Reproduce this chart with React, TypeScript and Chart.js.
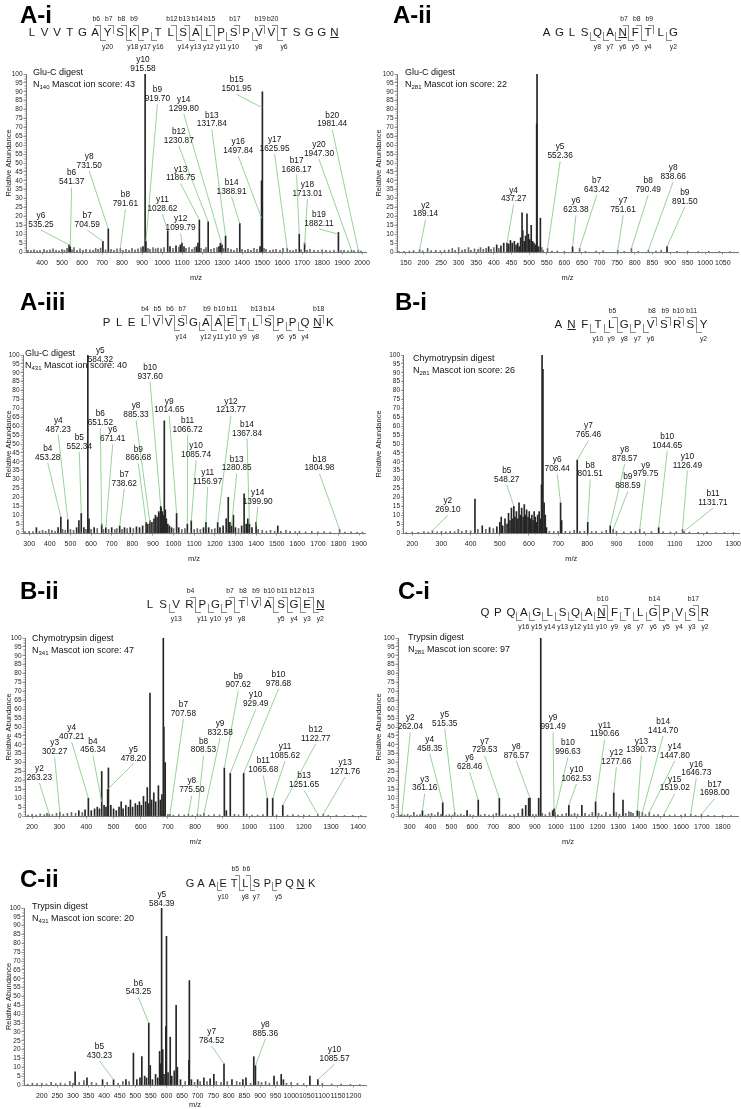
import React, { useEffect, useRef } from "react";
import { Chart, registerables } from "chart.js";
Chart.register(...registerables);

const FONT = '"Liberation Sans", Arial, Helvetica, sans-serif';

type Peak = [number, number];
// [ion name, m/z, abundance where leader meets peak, label m/z, label abundance]
type Ion = [string, number, number, number, number];

// ---------------- A-i ----------------
const aiSeq = "LVVTGAYSKPTLSALPSPVVTSGGN";
const aiB = [6, 7, 8, 9, 12, 13, 14, 15, 17, 19, 20];
const aiY = [20, 18, 17, 16, 14, 13, 12, 11, 10, 8, 6];
const aiTicks = [400, 500, 600, 700, 800, 900, 1000, 1100, 1200, 1300, 1400, 1500, 1600, 1700, 1800, 1900, 2000];
const aiPeaks: Peak[] = [[330,1],[345,0.8],[360,1.2],[375,0.7],[390,1],[410,1.5],[425,0.8],[440,1.2],[455,1.8],[470,1],[485,0.7],[500,1.5],[512,1],[525,2],[535.25,4],[541.37,3],[550,1.2],[560,2.5],[575,1],[590,1.8],[605,1],[620,1.5],[640,1.2],[655,1],[668,2],[680,1.5],[693,2.2],[704.59,6],[718,1.2],[731.5,13],[745,1.5],[760,1],[775,1.8],[791.61,2],[805,1],[820,1.5],[835,1],[850,2],[865,1.2],[880,1.8],[895,2.5],[905,3],[915.58,100],[919.7,6],[930,2],[940,1.5],[955,2.5],[968,1.8],[980,2.2],[995,1.8],[1010,2.5],[1028.62,12],[1040,3],[1055,2],[1070,3.5],[1085,2.8],[1092,4],[1099.79,5],[1110,3],[1120,2],[1135,2.5],[1150,1.5],[1162,2.5],[1172,3],[1180,5],[1186.75,18],[1195,2],[1210,1.5],[1220,2.5],[1230.87,17],[1245,1.5],[1260,2],[1275,2.5],[1285,3],[1292,5],[1299.8,4],[1308,2],[1317.84,9],[1330,2],[1345,1.5],[1360,1],[1375,2],[1388.91,16],[1400,1.5],[1415,1],[1430,1.5],[1445,1],[1460,2],[1475,1.5],[1490,3],[1497.84,40],[1501.95,90],[1510,2],[1520,1.5],[1540,1],[1555,1.2],[1570,1.5],[1590,1],[1605,2],[1625.95,2],[1640,1],[1655,0.8],[1670,1.5],[1686.17,10],[1695,1.2],[1713.01,5],[1725,1],[1740,1.5],[1760,1],[1780,0.8],[1800,1.2],[1820,1],[1840,0.7],[1860,1],[1882.11,11],[1895,0.8],[1910,1],[1930,0.6],[1947.3,1],[1960,0.8],[1981.44,1],[1995,0.5]];
const aiIons: Ion[] = [["y6",535.25,4,395,20.4],["b6",541.37,3,548,44.3],["b7",704.59,6,626,20.4],["y8",731.50,13,636,53.6],["b8",791.61,2,817,32.1],["y10",915.58,100,905,108],["b9",919.70,6,977,91],["y11",1028.62,12,1002,29.3],["y12",1099.79,5,1093,18.5],["y13",1186.75,18,1093,46.5],["b12",1230.87,17,1084,67.6],["y14",1299.80,4,1109,85.6],["b13",1317.84,9,1249,76.8],["b14",1388.91,16,1348,39],["y16",1497.84,19,1381,62],["b15",1501.95,81,1373,96.6],["y17",1625.95,2,1563,63],["b17",1686.17,10,1673,51.4],["y18",1713.01,4,1727,37.8],["b19",1882.11,10,1785,21],["y20",1947.30,1,1785,60.2],["b20",1981.44,1,1851,76.8]];

// ---------------- A-ii ----------------
const aiiSeq = "AGLSQANFTLG";
const aiiB = [7, 8, 9];
const aiiY = [8, 7, 6, 5, 4, 2];
const aiiTicks = [150, 200, 250, 300, 350, 400, 450, 500, 550, 600, 650, 700, 750, 800, 850, 900, 950, 1000, 1050];
const aiiPeaks: Peak[] = [[130,0.3],[145,0.4],[160,0.5],[172,0.8],[189.14,1.3],[198,0.6],[212,2],[222,0.8],[235,1],[248,0.7],[260,1],[272,1.2],[282,2],[290,1],[300,2.5],[310,1],[318,1.5],[328,2.5],[335,1],[345,1.8],[355,1.5],[362,2.5],[370,1.5],[378,2],[385,3],[392,1.5],[400,2.5],[408,4],[414,2],[420,3.5],[428,5],[437.27,5],[442,4.5],[447,6.5],[452,5],[458,6],[463,4],[468,5],[472,3],[476,8],[480,22],[482,12],[486,6],[490,9],[494,21.5],[498,10],[502,7],[506,15],[510,6],[514,5],[518,4],[521.5,72],[522.5,100],[527,3],[532,19],[536,2.5],[540,1],[552.36,2],[565,0.5],[580,0.6],[600,0.4],[623.38,3],[643.42,2],[660,0.4],[690,0.5],[710,0.6],[751.61,1],[770,0.4],[790.49,2],[810,0.4],[838.66,1],[860,0.5],[875,1],[891.5,3],[920,0.4],[950,0.5],[980,0.3],[1010,0.4],[1040,0.3],[1070,0.3]];
const aiiIons: Ion[] = [["y2",189.14,1.3,206,26.2],["y4",437.27,5,456,34.7],["y5",552.36,2,588,58.9],["y6",623.38,3,633,28.7],["b7",643.42,2,692,40],["y7",751.61,1,767,28.7],["b8",790.49,2,838,40],["y8",838.66,1,909,47.5],["b9",891.50,3,942,33.4]];

// ---------------- A-iii ----------------
const aiiiSeq = "PLELVVSGAAETLSPPQNK";
const aiiiB = [4, 5, 6, 7, 9, 10, 11, 13, 14, 18];
const aiiiY = [14, 12, 11, 10, 9, 8, 6, 5, 4];
const aiiiTicks = [300, 400, 500, 600, 700, 800, 900, 1000, 1100, 1200, 1300, 1400, 1500, 1600, 1700, 1800, 1900];
const aiiiPeaks: Peak[] = [[280,0.8],[300,1],[318,0.8],[335,3],[350,1],[365,1.5],[380,1],[395,2],[410,1.5],[425,1],[440,3],[453.28,9],[462,2],[475,1.5],[487.23,7.5],[500,2],[515,1.5],[530,3],[541,7],[552.34,11],[565,3],[575,2],[584.32,100],[590,8],[600,2],[615,3],[630,2.5],[651.52,5],[660,2],[671.41,3],[685,2],[700,3],[715,2],[725,2.5],[738.62,4],[750,2],[762,3],[775,2.5],[790,3],[805,2.5],[820,3.5],[835,3],[850,4],[866.68,6],[875,5],[885.33,7],[895,6],[905,8],[912,10],[920,9],[928,12],[935,11],[937.6,15],[940,14],[945,12],[950,10],[955,63],[960,13],[965,8],[972,5],[980,4],[990,3],[1000,2.5],[1014.65,11],[1025,3],[1040,2],[1055,2.5],[1066.72,5],[1085.74,7],[1100,2],[1115,2.5],[1130,2],[1145,3],[1156.97,6],[1170,3],[1185,2],[1200,2.5],[1213.77,6],[1225,3],[1240,4],[1255,8],[1265,20],[1273,6],[1280.85,4],[1290,10],[1300,3],[1315,2.5],[1330,4],[1342,22],[1352,5],[1360,8],[1367.84,5],[1380,3],[1399.9,6],[1410,2],[1430,1.5],[1450,1],[1470,1.5],[1490,1],[1505,4],[1520,1],[1545,1.5],[1565,1],[1590,0.8],[1610,1],[1640,0.7],[1670,1],[1700,0.6],[1730,0.8],[1760,0.5],[1804.98,2],[1830,0.5],[1860,0.6],[1890,0.4],[1915,0.5]];
const aiiiIons: Ion[] = [["b4",453.28,9,390,47.4],["y4",487.23,7.5,441,63],["b5",552.34,11,543,53.6],["y5",584.32,100,645,102.4],["b6",651.52,4,645,66.9],["y6",671.41,3,705,57.9],["b7",738.62,3.8,761,32.9],["y8",885.33,5.6,818,71.4],["b9",866.68,5.6,829,47],["b10",937.60,15,886,93],["y9",1014.65,11,979,74],["b11",1066.72,5,1068,63],["y10",1085.74,6.5,1109,48.9],["y11",1156.97,6,1165,33.8],["y12",1213.77,5.6,1278,74],["b13",1280.85,4,1306,41.4],["b14",1367.84,5,1356,61],["y14",1399.90,4,1408,22.6],["b18",1804.98,2,1707,41.4]];

// ---------------- B-i ----------------
const biSeq = "ANFTLGPVSRSY";
const biB = [5, 8, 9, 10, 11];
const biY = [10, 9, 8, 7, 6, 2];
const biTicks = [200, 300, 400, 500, 600, 700, 800, 900, 1000, 1100, 1200, 1300];
const biPeaks: Peak[] = [[180,0.3],[200,0.5],[220,0.4],[240,0.8],[255,0.5],[269.1,1.3],[285,0.6],[300,1],[315,0.7],[330,1],[345,0.8],[358,2],[370,1],[385,1.5],[400,1.2],[415,19],[425,2],[440,4],[452,2],[465,3],[478,2.5],[490,3.5],[500,6],[505,9],[510,4],[518,8],[525,5],[530,11],[535,7],[540,14],[545,8],[548.27,15],[552,9],[557,12],[562,8],[566,17],[570,10],[575,14],[580,9],[584,16],[588,10],[592,13],[597,9],[601,12],[605,8],[610,10],[614,7],[618,12],[622,9],[626,6],[630,10],[635,12],[640,8],[643,27],[645,100],[648,92],[652,17],[656,10],[660,3],[670,1],[685,0.8],[700,1],[708.44,17],[712,7],[725,1],[740,0.8],[755,1.5],[765.46,41],[775,1],[790,1],[801.51,6],[815,0.8],[830,1],[850,0.6],[865,1.5],[878.57,4],[888.59,2],[900,1],[925,0.6],[950,0.8],[965,1],[979.75,2],[995,0.6],[1020,0.8],[1044.65,3],[1060,0.6],[1085,0.5],[1105,0.6],[1126.49,2],[1131.71,1],[1150,0.5],[1180,0.4],[1210,0.5],[1240,0.3],[1270,0.4],[1300,0.3]];
const biIons: Ion[] = [["y2",269.10,1.3,322,18],["b5",548.27,15,524,35],["y6",708.44,17,697,41],["y7",765.46,41,804,60],["b8",801.51,6,810,38],["y8",878.57,4,928,46.7],["b9",888.59,2,939,31.4],["y9",979.75,2,1000,38],["b10",1044.65,3,1074,54],["y10",1126.49,2,1143,43],["b11",1131.71,1,1231,22]];

// ---------------- B-ii ----------------
const biiSeq = "LSVRPGPTVASGEN";
const biiB = [4, 7, 8, 9, 10, 11, 12, 13];
const biiY = [13, 11, 10, 9, 8, 5, 4, 3, 2];
const biiTicks = [200, 300, 400, 500, 600, 700, 800, 900, 1000, 1100, 1200, 1300, 1400];
const biiPeaks: Peak[] = [[185,0.5],[200,1],[215,0.5],[230,1.2],[245,0.8],[255,1.5],[263.23,1],[275,0.8],[290,1.5],[302.27,2],[315,1],[330,1.5],[345,2],[360,1.5],[372,3],[385,2],[395,3.5],[407.21,10],[418,3],[430,4],[440,5],[448,4],[456.34,25],[465,6],[472,5],[478.2,15],[481,27],[490,6],[500,4],[510,3],[520,5],[528,8],[535,4],[545,6],[555,5],[562,9],[570,5],[580,7],[588,6],[595,8],[602,6],[610,11],[618,8],[624,16],[630,7],[634,69],[640,9],[648,13],[655,8],[665,17],[672,9],[678,12],[683,100],[685,50],[690,30],[700,1],[707.58,1],[720,0.5],[740,0.8],[760,0.6],[775.5,1],[790,0.5],[808.53,1],[820,0.6],[832.58,1.5],[850,0.5],[870,0.8],[890,0.6],[907.62,27],[915,3],[929.49,24],[945,1],[960,0.6],[978.68,24],[990,1],[1010,0.5],[1030,0.6],[1050,0.8],[1065.68,10],[1085.62,10],[1100,0.6],[1122.77,6],[1140,0.5],[1160,0.8],[1180,0.5],[1200,0.6],[1220,0.4],[1251.65,1],[1271.76,1],[1290,0.4],[1320,0.5],[1350,0.3],[1380,0.4],[1410,0.3]];
const biiIons: Ion[] = [["y2",263.23,1,227,26.7],["y3",302.27,2,283,41],["y4",407.21,10,346,49.5],["b4",456.34,8,424,42],["y5",478.20,15,573,37.4],["b7",707.58,1,757,62.6],["y8",775.50,1,788,19.6],["b8",808.53,1,831,42],["y9",832.58,1.5,892,52],["b9",907.62,27,959,78.5],["y10",929.49,24,1023,68],["b10",978.68,24,1107,79.4],["b11",1065.68,10,1051,30.8],["y11",1085.62,10,1131,39],["b12",1122.77,6,1244,48.6],["b13",1251.65,1,1201,22.4],["y13",1271.76,1,1352,30]];

// ---------------- C-i ----------------
const ciSeq = "QPQAGLSQANFTLGPVSR";
const ciB = [10, 14, 17];
const ciY = [16, 15, 14, 13, 12, 11, 10, 9, 8, 7, 6, 5, 4, 3, 2];
const ciTicks = [300, 400, 500, 600, 700, 800, 900, 1000, 1100, 1200, 1300, 1400, 1500, 1600, 1700, 1800];
const ciPeaks: Peak[] = [[255,0.5],[262.04,0.8],[275,0.5],[290,1],[305,0.4],[320,2],[335,0.5],[350,0.8],[361.16,3],[375,0.5],[390,1],[405,1.5],[420,0.6],[435,2],[450,1],[458.35,7.5],[475,0.5],[490,0.8],[505,0.5],[515.35,2],[530,0.6],[545,1],[560,0.4],[575,3],[590,0.8],[605,0.5],[628.46,9],[640,0.6],[660,1],[680,0.5],[700,0.8],[715,1.5],[729.53,10],[745,0.6],[760,1],[780,0.5],[800,0.8],[820,1.5],[840,4],[856,6],[870,10],[876.57,10],[890,1],[905,0.8],[918,10],[928,100],[935,1.5],[950,0.8],[970,2],[985,3],[991.49,4],[996.63,2],[1010,0.6],[1030,1],[1050,1.5],[1062.53,6],[1075,0.8],[1090,1.5],[1105,1],[1125,6],[1140,1.5],[1160,0.8],[1175,2],[1190.66,8],[1205,1.5],[1220,0.6],[1240,2],[1260,1],[1277.66,13],[1290,2],[1305,1],[1322,9],[1335,1.5],[1350,2.5],[1360,2],[1370,1.5],[1390.73,3],[1400,2.5],[1414.7,2],[1430,0.8],[1447.8,2],[1470,0.6],[1490,0.8],[1519.02,1],[1545,0.5],[1570,0.6],[1600,0.5],[1620,1],[1646.73,1],[1670,0.4],[1698,1],[1730,0.4],[1760,0.3],[1800,0.4],[1840,0.3]];
const ciIons: Ion[] = [["y2",262.04,0.5,303,55],["y3",361.16,3,372,20.6],["y4",458.35,7.5,396,43],["y5",515.35,2,468,57],["y6",628.46,9,587,32.7],["y7",729.53,10,659,42],["y8",876.57,10,811,39],["y9",991.49,4,987,55],["b10",996.63,2,1058,41],["y10",1062.53,6,1099,26],["y11",1190.66,8,1234,51],["y12",1277.66,13,1290,35.5],["y13",1390.73,3,1410,42],["b14",1414.70,2,1514,53],["y14",1447.80,2,1570,39],["y15",1519.02,1,1570,20.6],["y16",1646.73,1,1673,29],["b17",1698.00,1,1761,17.8]];

// ---------------- C-ii ----------------
const ciiSeq = "GAAETLSPPQNK";
const ciiB = [5, 6];
const ciiY = [10, 8, 7, 5];
const ciiTicks = [200, 250, 300, 350, 400, 450, 500, 550, 600, 650, 700, 750, 800, 850, 900, 950, 1000, 1050, 1100, 1150, 1200];
const ciiPeaks: Peak[] = [[155,0.5],[170,1],[185,0.8],[200,1],[215,0.6],[230,1.5],[245,0.8],[260,1.2],[275,0.6],[290,2],[300,1],[307,7.5],[320,1.5],[335,2.5],[345,4],[360,1.5],[375,1],[395,3],[410,1.5],[430.23,3],[445,1],[460,2],[470,3],[480,2],[494,18],[505,3],[515,4],[521,16],[530,5],[536,4],[543.25,35],[548,11],[555,3],[565,6],[572,4],[578,19],[581,12],[584.39,100],[588,20],[592,6],[598,33],[600,84],[605,7],[612,27],[617,5],[625,8],[631,45],[635,10],[645,3],[660,2],[672,14],[673.5,59],[680,3],[690,1.5],[700,3],[708,2],[720,4],[730,2],[740,3.5],[752,6],[760,2],[775,1.5],[784.52,12],[795,2],[810,3],[825,2],[835,1.5],[845,3],[855,4],[870,1],[880,16],[885.36,11],[895,2],[905,1.5],[918,2],[930,1],[945,5],[955,2],[968,6],[975,3],[985,1],[1000,1.5],[1020,1],[1040,0.8],[1060,5],[1085.57,3],[1100,1],[1130,0.6],[1160,0.5],[1190,0.4],[1220,0.3]];
const ciiIons: Ion[] = [["b5",430.23,3,385,21.7],["b6",543.25,35,510,57.5],["y5",584.39,100,585,107.5],["y7",784.52,12,745,30],["y8",885.36,11,917,34],["y10",1085.57,3,1139,19.8]];

// ---------------- panel layout ----------------
interface PanelCfg {
  title: string; digest: string; site: string; score: string;
  seq: string; bIons: number[]; yIons: number[]; ul: number;
  peaks: Peak[]; ions: Ion[]; xTicks: number[]; xMin: number; xMax: number;
  box: number[]; plot: number[]; titleAt: number[]; seqAt: number[]; digestAt: number[];
}

const L_COL = [0, 370];
const R_COL = [370, 371];
const ROWS = [[0, 288], [288, 280], [568, 284], [852, 257]];

const PANELS: PanelCfg[] = [
  { title: "A-i", digest: "Glu-C digest", site: "140", score: "43", seq: aiSeq, bIons: aiB, yIons: aiY, ul: 25,
    peaks: aiPeaks, ions: aiIons, xTicks: aiTicks, xMin: 320, xMax: 2020,
    box: [L_COL[0], ROWS[0][0], L_COL[1], ROWS[0][1]], plot: [26, 366, 74, 252],
    titleAt: [20, 23], seqAt: [32, 12.6, 33, 11.5], digestAt: [33, 72] },
  { title: "A-ii", digest: "Glu-C digest", site: "281", score: "22", seq: aiiSeq, bIons: aiiB, yIons: aiiY, ul: 7,
    peaks: aiiPeaks, ions: aiiIons, xTicks: aiiTicks, xMin: 125, xMax: 1093,
    box: [R_COL[0], ROWS[0][0], R_COL[1], ROWS[0][1]], plot: [397, 738, 74, 252],
    titleAt: [393, 23], seqAt: [546.7, 12.67, 33, 11.5], digestAt: [405, 72] },
  { title: "A-iii", digest: "Glu-C digest", site: "431", score: "40", seq: aiiiSeq, bIons: aiiiB, yIons: aiiiY, ul: 18,
    peaks: aiiiPeaks, ions: aiiiIons, xTicks: aiiiTicks, xMin: 270, xMax: 1928,
    box: [L_COL[0], ROWS[1][0], L_COL[1], ROWS[1][1]], plot: [23, 365, 355, 533],
    titleAt: [20, 310], seqAt: [106.7, 12.4, 323, 11.5], digestAt: [25, 353] },
  { title: "B-i", digest: "Chymotrypsin digest", site: "281", score: "26", seq: biSeq, bIons: biB, yIons: biY, ul: 2,
    peaks: biPeaks, ions: biIons, xTicks: biTicks, xMin: 170, xMax: 1320,
    box: [R_COL[0], ROWS[1][0], R_COL[1], ROWS[1][1]], plot: [403.5, 739, 355, 533],
    titleAt: [395, 310], seqAt: [558.3, 13.2, 325, 11.5], digestAt: [413, 358] },
  { title: "B-ii", digest: "Chymotrypsin digest", site: "341", score: "47", seq: biiSeq, bIons: biiB, yIons: biiY, ul: 14,
    peaks: biiPeaks, ions: biiIons, xTicks: biiTicks, xMin: 174, xMax: 1429,
    box: [L_COL[0], ROWS[2][0], L_COL[1], ROWS[2][1]], plot: [25, 366, 638, 816],
    titleAt: [20, 599], seqAt: [150, 13.1, 605, 11.5], digestAt: [32, 638] },
  { title: "C-i", digest: "Trypsin digest", site: "281", score: "97", seq: ciSeq, bIons: ciB, yIons: ciY, ul: 10,
    peaks: ciPeaks, ions: ciIons, xTicks: ciTicks, xMin: 244, xMax: 1873,
    box: [R_COL[0], ROWS[2][0], R_COL[1], ROWS[2][1]], plot: [398, 738, 638, 816],
    titleAt: [398, 599], seqAt: [485, 12.94, 613, 11.5], digestAt: [408, 637] },
  { title: "C-ii", digest: "Trypsin digest", site: "431", score: "20", seq: ciiSeq, bIons: ciiB, yIons: ciiY, ul: 11,
    peaks: ciiPeaks, ions: ciiIons, xTicks: ciiTicks, xMin: 143, xMax: 1240,
    box: [L_COL[0], ROWS[3][0], L_COL[1], ROWS[3][1]], plot: [24, 366, 908, 1085],
    titleAt: [20, 887], seqAt: [190, 11.06, 883, 11], digestAt: [32, 906] },
];

const ION_FS = 8.3;
const ION_LS = 8.8;
const LEADER = "rgb(125,200,125)";
const TITLE_FS = 24;

function Spectrum({ c }: { c: PanelCfg }) {
  const ref = useRef<HTMLCanvasElement | null>(null);
  useEffect(() => {
    const cv = ref.current;
    if (!cv) return;
    const [bx, by, bw, bh] = c.box;
    const [pl, pr, pt, pb] = c.plot;
    const yW = pl - bx;
    const padRight = bx + bw - pr;
    const padTop = pt - by;
    const xH = bh - (pb - by);
    const titleLH = 7.5 * 1.2;
    const mzPad = Math.max(0, bh - titleLH / 2 - (pb + 26 - by));
    const step = c.xTicks[1] - c.xTicks[0];
    const minor = step / 5;

    const annot = {
      id: "annot",
      afterDraw(chart: any) {
        const ctx = chart.ctx;
        const xs = chart.scales.x;
        const ys = chart.scales.y;
        ctx.save();
        // minor ticks
        ctx.strokeStyle = "#888";
        ctx.lineWidth = 0.6;
        ctx.beginPath();
        for (let v = 1; v < 100; v++) {
          if (v % 5 === 0) continue;
          const py = Math.round(ys.getPixelForValue(v)) + 0.5;
          ctx.moveTo(xs.left - 1.5, py);
          ctx.lineTo(xs.left, py);
        }
        for (let v = Math.ceil(c.xMin / minor) * minor; v <= c.xMax; v += minor) {
          if (Math.abs(v / step - Math.round(v / step)) < 1e-6) continue;
          const px = Math.round(xs.getPixelForValue(v)) + 0.5;
          ctx.moveTo(px, ys.bottom);
          ctx.lineTo(px, ys.bottom + 1.5);
        }
        ctx.stroke();
        // leader lines
        ctx.strokeStyle = LEADER;
        ctx.lineWidth = 0.8;
        for (const [, mz, h, lx, ly] of c.ions) {
          const lxp = xs.getPixelForValue(lx);
          const lyp = ys.getPixelForValue(ly);
          const sy = lyp + ION_LS + 5.5;
          const ex = xs.getPixelForValue(mz);
          const ey = ys.getPixelForValue(h);
          if (ey <= sy + 1) continue;
          ctx.beginPath();
          ctx.moveTo(lxp, sy);
          ctx.lineTo(ex, ey);
          ctx.stroke();
        }
        // labels
        ctx.fillStyle = "#111";
        ctx.font = `${ION_FS}px ${FONT}`;
        ctx.textAlign = "center";
        ctx.textBaseline = "middle";
        for (const [name, mz, , lx, ly] of c.ions) {
          const lxp = xs.getPixelForValue(lx);
          const lyp = ys.getPixelForValue(ly);
          ctx.fillText(name, lxp, lyp);
          ctx.fillText(mz.toFixed(2), lxp, lyp + ION_LS);
        }
        ctx.restore();
      },
    };

    const chart = new Chart(cv, {
      type: "bar",
      data: {
        datasets: [
          {
            data: c.peaks.map(([x, y]) => ({ x, y })),
            backgroundColor: (ctx: any) => {
              const v = ctx.raw ? ctx.raw.y : 0;
              return v < 3 ? "#6a6a6a" : "#262626";
            },
            borderWidth: 0,
            barThickness: 1,
            grouped: false,
          } as any,
        ],
      },
      options: {
        animation: false,
        responsive: false,
        events: [],
        layout: { padding: { left: 0, right: padRight, top: padTop, bottom: 0 } },
        plugins: { legend: { display: false }, tooltip: { enabled: false } },
        scales: {
          x: {
            type: "linear",
            min: c.xMin,
            max: c.xMax,
            offset: false,
            grid: { display: true, drawOnChartArea: false, drawTicks: true, tickLength: 2.5, color: "#777", lineWidth: 0.8, offset: false },
            border: { display: true, color: "#777", width: 1 },
            ticks: {
              autoSkip: false, maxRotation: 0, minRotation: 0, padding: 4, color: "#222",
              font: { family: FONT, size: 7 },
              callback: (v: any) => String(v),
            },
            afterBuildTicks: (s: any) => { s.ticks = c.xTicks.map((v) => ({ value: v })); },
            afterFit: (s: any) => { s.height = xH; s.paddingLeft = 0; s.paddingRight = 0; },
            title: { display: true, text: "m/z", color: "#222", font: { family: FONT, size: 7.5 }, padding: { top: 0, bottom: mzPad } },
          } as any,
          y: {
            min: 0,
            max: 100,
            grid: { display: true, drawOnChartArea: false, drawTicks: true, tickLength: 2.5, color: "#777", lineWidth: 0.8 },
            border: { display: true, color: "#777", width: 1 },
            ticks: {
              stepSize: 5, padding: 1, color: "#222", autoSkip: false,
              font: { family: FONT, size: 6.5 },
              callback: (v: any) => String(v),
            },
            afterFit: (s: any) => { s.width = yW; s.paddingTop = 0; s.paddingBottom = 0; },
            title: { display: true, text: "Relative Abundance", color: "#222", font: { family: FONT, size: 7.5 }, padding: { top: 4, bottom: 0 } },
          } as any,
        },
      },
      plugins: [annot],
    });
    return () => chart.destroy();
  }, [c]);
  const [bx, by, bw, bh] = c.box;
  return (
    <canvas ref={ref} width={bw} height={bh}
      style={{ position: "absolute", left: bx, top: by, width: bw, height: bh }} />
  );
}

function Sequence({ c }: { c: PanelCfg }) {
  const [x1, s, yc, fs] = c.seqAt;
  const L = c.seq.length;
  const cx = (i: number) => x1 + (i - 1) * s;
  const bound = (k: number) => Math.round(x1 + (k - 0.5) * s);
  const lfs = 6.8;
  const items: any[] = [];
  const col = "#8c8c8c";
  c.seq.split("").forEach((ch, i) => {
    items.push(
      <div key={"r" + i} style={{
        position: "absolute", left: cx(i + 1) - s / 2, width: s, top: yc - 0.49 * fs,
        fontSize: fs, lineHeight: fs + "px", textAlign: "center", color: "#1a1a1a",
        textDecoration: i + 1 === c.ul ? "underline" : "none",
      }}>{ch}</div>
    );
  });
  c.bIons.forEach((n) => {
    const bxp = bound(n);
    const w = Math.round(s * 0.45);
    items.push(<div key={"bb" + n} style={{ position: "absolute", left: bxp - w, top: yc - 8, width: w, height: 9, borderTop: `1px solid ${col}`, borderRight: `1px solid ${col}`, boxSizing: "border-box" }} />);
    items.push(<div key={"bl" + n} style={{ position: "absolute", left: cx(n) + s * 0.1 - 10, width: 20, top: yc - 14 - 0.49 * lfs, fontSize: lfs, lineHeight: lfs + "px", textAlign: "center", color: "#222" }}>{"b" + n}</div>);
  });
  c.yIons.forEach((n) => {
    const k = L - n + 1;
    const bxp = bound(k);
    const w = Math.round(s * 0.45);
    items.push(<div key={"yb" + n} style={{ position: "absolute", left: bxp - 1, top: yc - 1, width: w, height: 9, borderLeft: `1px solid ${col}`, borderBottom: `1px solid ${col}`, boxSizing: "border-box" }} />);
    items.push(<div key={"yl" + n} style={{ position: "absolute", left: cx(k + 1) - 10, width: 20, top: yc + 14 - 0.49 * lfs, fontSize: lfs, lineHeight: lfs + "px", textAlign: "center", color: "#222" }}>{"y" + n}</div>);
  });
  return <>{items}</>;
}

function Panel({ c }: { c: PanelCfg }) {
  const [tx, tb] = c.titleAt;
  const [dx, dy] = c.digestAt;
  const dfs = 9;
  return (
    <>
      <Spectrum c={c} />
      <div style={{ position: "absolute", left: tx, top: tb - 0.8465 * TITLE_FS, fontSize: TITLE_FS, lineHeight: TITLE_FS + "px", fontWeight: "bold", color: "#000", whiteSpace: "nowrap" }}>{c.title}</div>
      <Sequence c={c} />
      <div style={{ position: "absolute", left: dx, top: dy - 0.49 * dfs, fontSize: dfs, lineHeight: dfs + "px", color: "#111", whiteSpace: "nowrap" }}>{c.digest}</div>
      <div style={{ position: "absolute", left: dx, top: dy + 12 - 0.49 * dfs, fontSize: dfs, lineHeight: dfs + "px", color: "#111", whiteSpace: "nowrap" }}>
        N<span style={{ fontSize: 6, position: "relative", top: 2.5 }}>{c.site}</span> Mascot ion score: {c.score}
      </div>
    </>
  );
}

export default function App() {
  return (
    <div style={{ position: "absolute", left: 0, top: 0, width: 741, height: 1109, background: "#fff", overflow: "hidden", fontFamily: FONT }}>
      {PANELS.map((p) => <Panel key={p.title} c={p} />)}
    </div>
  );
}
